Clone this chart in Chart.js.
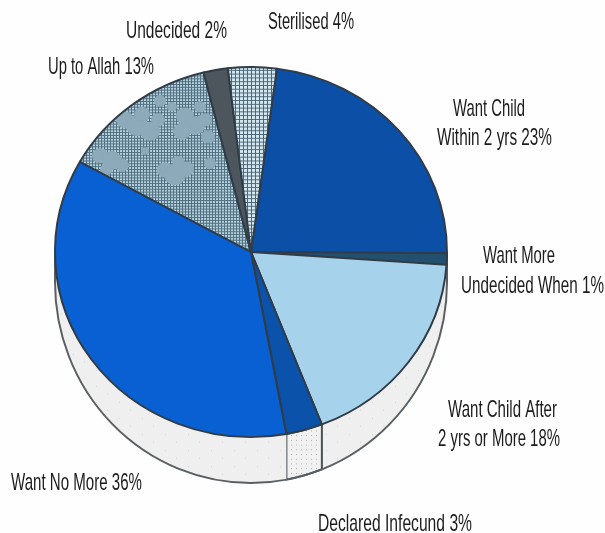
<!DOCTYPE html>
<html>
<head>
<meta charset="utf-8">
<title>Pie chart</title>
<script src="https://cdn.jsdelivr.net/npm/chart.js@4"></script>
<style>
    html, body { margin: 0; padding: 0; background: #fefefe; }
    canvas { display: block; }
</style>
</head>
<body>
<canvas id="pie" width="605" height="533"></canvas>
<script>
// Shares in percent, clockwise from the Want Child slice
const categories = ['Want Child Within 2 yrs', 'Want More Undecided When', 'Want Child After 2 yrs or More',
    'Declared Infecund', 'Want No More', 'Up to Allah', 'Undecided', 'Sterilised'];
const shares = [23, 1, 18, 3, 36, 13, 2, 4];
const labelLines = [
    ['Want Child', 'Within 2 yrs 23%'],
    ['Want More', 'Undecided When 1%'],
    ['Want Child After', '2 yrs or More 18%'],
    ['Declared Infecund 3%'],
    ['Want No More 36%'],
    ['Up to Allah 13%'],
    ['Undecided 2%'],
    ['Sterilised 4%']
];

// left edge, baseline and squeezed width for each line of labelLines
const labelSpots = [
    [[453, 116, 72], [437, 145, 115]],
    [[483, 263, 72], [461, 293, 143]],
    [[448, 417, 109], [438, 446, 122]],
    [[318, 531, 154]],
    [[11, 490, 131]],
    [[48, 74, 106]],
    [[126, 38, 101]],
    [[268, 29, 86]]
];

const squash = 185 / 196; // top face is a slightly flattened circle
const depth = 30;
const wallStretch = 201 / 185; // lower rim bulges a bit more than the top face

const canvas = document.getElementById('pie');

const makeTile = (w, h, paint) => {
    const tile = document.createElement('canvas');
    tile.width = w;
    tile.height = h;
    paint(tile.getContext('2d'));
    return canvas.getContext('2d').createPattern(tile, 'repeat');
};

const dotGrid = (c, w, h, step, size, bg, dot) => {
    c.fillStyle = bg;
    c.fillRect(0, 0, w, h);
    c.fillStyle = dot;
    for (let y = 0; y < h; y += step) {
        for (let x = 0; x < w; x += step) c.fillRect(x, y, size, size);
    }
};

const sterilisedFill = makeTile(4, 4, c => dotGrid(c, 4, 4, 4, 3, '#4d6677', '#d3e7f0'));

// Allah slice is a screen with solid blotches breaking through it
const blotches = [
    [125, 112, 9], [137, 118, 11], [150, 124, 10], [142, 106, 8], [158, 112, 7],
    [100, 150, 8], [112, 155, 10], [122, 160, 7], [106, 165, 6],
    [165, 165, 8], [175, 170, 11], [186, 164, 8], [178, 156, 6],
    [185, 108, 9], [195, 118, 10], [182, 124, 9], [205, 112, 7], [200, 98, 6], [208, 130, 7],
    [160, 92, 6], [172, 98, 5], [145, 145, 4], [210, 158, 6]
];
const allahFill = makeTile(605, 533, c => {
    dotGrid(c, 605, 533, 3, 2, '#4f6f7f', '#b6d1de');
    c.fillStyle = '#8caab9';
    blotches.forEach(([x, y, r]) => {
        c.beginPath();
        c.arc(x, y, r, 0, Math.PI * 2);
        c.fill();
    });
});

const plainWall = makeTile(23, 17, c => {
    c.fillStyle = '#efefef';
    c.fillRect(0, 0, 23, 17);
    c.fillStyle = '#d2d2d2';
    c.fillRect(4, 3, 1, 1);
    c.fillRect(15, 11, 1, 1);
});

const infecundWall = makeTile(5, 5, c => {
    c.fillStyle = '#f1f1f1';
    c.fillRect(0, 0, 5, 5);
    c.fillStyle = '#a9a9a9';
    c.fillRect(1, 1, 1, 1);
});

const sliceColors = ['#0b4fa6', '#24506f', '#a7d2ec', '#0b52ab', '#0860d2', allahFill, '#4d565c', sterilisedFill];

// Side wall of the disc, built from the arc elements so it follows the slices
const discWall = {
    id: 'discWall',
    beforeDatasetsDraw(chart) {
        const { ctx } = chart;
        const arcs = chart.getDatasetMeta(0).data;
        const { x: cx, y: cy, outerRadius: r } = arcs[0];
        ctx.save();
        ctx.translate(0, cy);
        ctx.scale(1, squash);
        ctx.translate(0, -cy);
        const drop = depth / squash;
        const rimY = r * wallStretch;
        arcs.forEach((arc, i) => {
            const isInfecund = categories[i] === 'Declared Infecund';
            for (let k = -1; k <= 1; k++) {
                const a0 = Math.max(arc.startAngle + k * Math.PI * 2, 0);
                const a1 = Math.min(arc.endAngle + k * Math.PI * 2, Math.PI);
                if (a1 <= a0) continue;
                ctx.beginPath();
                ctx.arc(cx, cy, r, a0, a1);
                ctx.ellipse(cx, cy + drop, r, rimY, 0, a1, a0, true);
                ctx.closePath();
                ctx.fillStyle = isInfecund ? infecundWall : plainWall;
                ctx.fill();
                if (isInfecund) {
                    ctx.strokeStyle = '#4a4f52';
                    ctx.lineWidth = 2;
                    ctx.stroke();
                }
            }
        });
        // outer silhouette: both vertical sides and the lower curve
        ctx.beginPath();
        ctx.moveTo(cx + r, cy);
        ctx.lineTo(cx + r, cy + drop);
        ctx.ellipse(cx, cy + drop, r, rimY, 0, 0, Math.PI);
        ctx.lineTo(cx - r, cy);
        ctx.strokeStyle = '#5a5f63';
        ctx.lineWidth = 2;
        ctx.stroke();
        // top face is squashed the same way, undone in afterDatasetsDraw
    },
    afterDatasetsDraw(chart) {
        chart.ctx.restore();
    }
};

const outsideLabels = {
    id: 'outsideLabels',
    afterDraw(chart) {
        const { ctx } = chart;
        ctx.save();
        ctx.fillStyle = '#1c1c1c';
        ctx.font = '24px "Liberation Sans"';
        ctx.textAlign = 'left';
        ctx.textBaseline = 'alphabetic';
        labelLines.forEach((lines, i) => {
            lines.forEach((line, j) => {
                const [x, y, w] = labelSpots[i][j];
                ctx.fillText(line, x, y, w);
            });
        });
        ctx.restore();
    }
};

new Chart(canvas, {
    type: 'pie',
    data: {
        labels: categories,
        datasets: [{
            data: shares,
            backgroundColor: sliceColors,
            borderColor: '#303c48',
            borderWidth: 2,
            borderJoinStyle: 'round'
        }]
    },
    options: {
        responsive: false,
        animation: false,
        rotation: 7.6,
        layout: { padding: { left: 54, right: 157, top: 55, bottom: 84 } },
        plugins: { legend: { display: false }, tooltip: { enabled: false } }
    },
    plugins: [discWall, outsideLabels]
});
</script>
</body>
</html>
